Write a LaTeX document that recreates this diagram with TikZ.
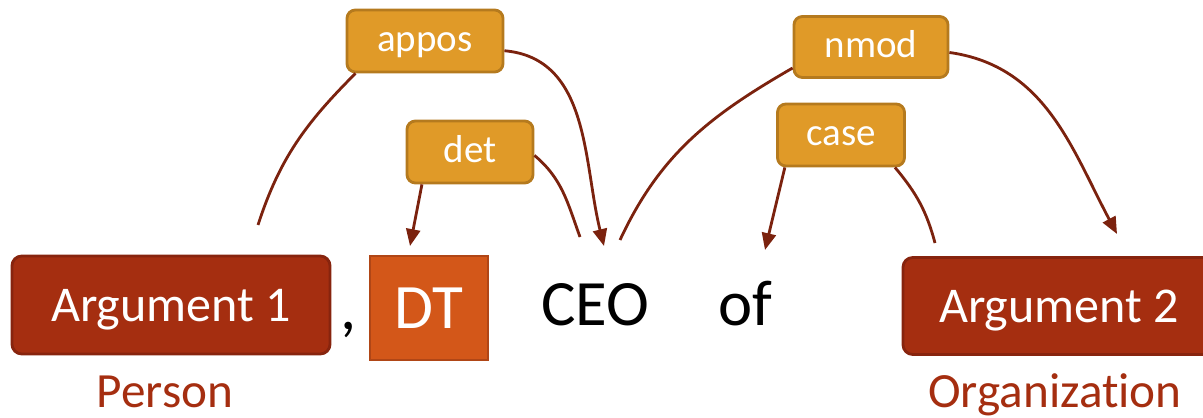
\documentclass[tikz,border=0pt]{standalone}
\usepackage{fontspec}
\setmainfont{Carlito}[Ligatures=NoCommon]
\usetikzlibrary{arrows.meta}

\definecolor{argred}{RGB}{165,46,16}
\definecolor{argedge}{RGB}{135,36,14}
\definecolor{dtorange}{RGB}{211,87,25}
\definecolor{dtedge}{RGB}{176,70,22}
\definecolor{relfill}{RGB}{224,154,40}
\definecolor{reledge}{RGB}{181,122,30}
\definecolor{deparrow}{RGB}{123,34,14}

\begin{document}
\begin{tikzpicture}
  [x=0.025cm, y=-0.025cm,
   argbox/.style={draw=argedge, line width=2pt, fill=argred, rounded corners=7pt,
     text=white, inner sep=0pt, minimum height=2.45cm,
     font=\fontsize{35.6}{40}\selectfont, text height=22.9pt, text depth=0pt},
   relbox/.style={draw=reledge, line width=2pt, fill=relfill, rounded corners=6pt,
     text=white, inner sep=0pt, minimum height=1.55cm,
     font=\fontsize{27.7}{32}\selectfont, text height=15.5pt, text depth=0pt},
   word/.style={inner sep=0pt, font=\fontsize{46}{52}\selectfont,
     text height=29.6pt, text depth=0pt},
   etype/.style={inner sep=0pt, text=argred, font=\fontsize{35}{40}\selectfont,
     text height=22.5pt, text depth=0pt},
   dep/.style={draw=deparrow, line width=2pt},
   deptip/.style={dep, -{Triangle[length=12pt, width=10pt]}}]
  \useasboundingbox (0, 0) rectangle (1203, 418);

  % sentence
  \node[argbox, minimum width=7.95cm] (arg1) at (171, 305) {Argument 1};
  \node[word, anchor=base] (comma) at (349, 330) {,};
  \node[draw=dtedge, line width=2pt, fill=dtorange, text=white, inner sep=0pt,
    minimum width=2.95cm, minimum height=2.6cm, font=\fontsize{45}{50}\selectfont,
    text height=29pt, text depth=0pt] (dt) at (429, 308) {DT};
  \node[word] (ceo) at (595, 305) {CEO};
  \node[word] (of) at (745, 305) {of};
  \node[argbox, minimum width=7.8cm, minimum height=2.425cm] (arg2) at (1059, 306) {Argument 2};
  \node[etype] (person) at (165, 392) {Person};
  \node[etype] (org) at (1055, 392) {Organization};

  % relation labels
  \node[relbox, minimum width=3.9cm] (appos) at (425, 41) {appos};
  \node[relbox, minimum width=3.15cm] (det) at (470, 152) {det};
  \node[relbox, minimum width=3.85cm, minimum height=1.525cm] (nmod) at (871, 47) {nmod};
  \node[relbox, minimum width=3.175cm] (case) at (841, 135) {case};

  % ends of the arcs above the words
  \coordinate (arg1top) at (258, 225);
  \coordinate (dttop) at (410, 246);
  \coordinate (ceoleft) at (580, 237);
  \coordinate (ceomid) at (604, 246);
  \coordinate (ceoright) at (620, 240);
  \coordinate (oftop) at (765, 250);
  \coordinate (arg2left) at (935, 243);
  \coordinate (arg2top) at (1117, 234);

  \draw[dep] (arg1top) to[out=72, in=225] (appos.205);
  \draw[deptip] (appos.-7) to[out=-5, in=104] (ceomid);
  \draw[deptip] (det.-146) -- (dttop);
  \draw[dep] (det.-3) to[out=-40, in=110] (ceoleft);
  \draw[dep] (ceoright) to[out=65, in=210] (nmod.195);
  \draw[deptip] (nmod.-4) to[out=-8, in=118] (arg2top);
  \draw[deptip] (case.210) -- (oftop);
  \draw[dep] (case.-31) to[out=-50, in=105] (arg2left);
\end{tikzpicture}
\end{document}
